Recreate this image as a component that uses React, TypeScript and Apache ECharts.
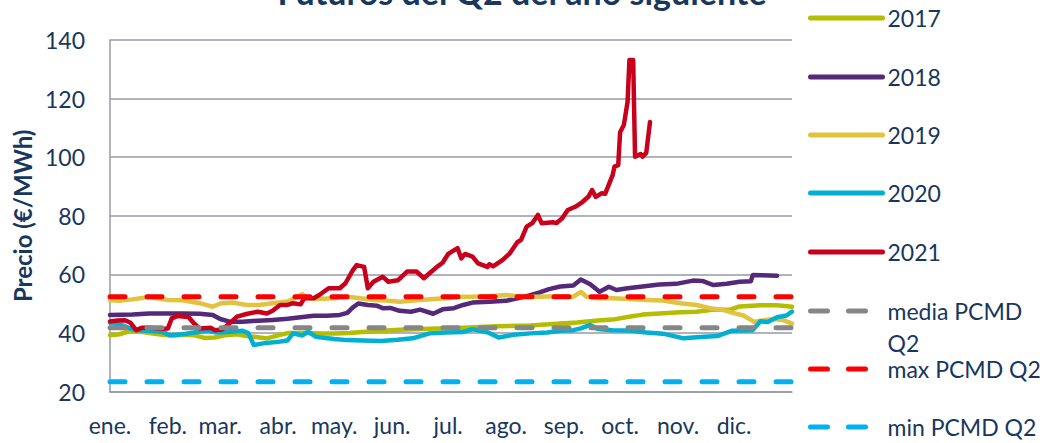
import React, { useEffect, useRef } from "react";
import * as echarts from "echarts";

const MONTHS = ["ene.", "feb.", "mar.", "abr.", "may.", "jun.", "jul.", "ago.", "sep.", "oct.", "nov.", "dic."];
const TITLE = "Futuros del Q2 del año siguiente";
const Y_NAME = "Precio (€/MWh)";
const Y_MIN = 20;
const Y_MAX = 140;
const Y_STEP = 20;
const NAMES = ["2017", "2018", "2019", "2020", "2021", "media PCMD Q2", "max PCMD Q2", "min PCMD Q2"];

// [day of year, €/MWh]
const S2017: [number, number][] = [
  [0, 39.3], [5, 39.6], [11, 40.8], [16, 40.5], [21, 40.0], [28, 39.4], [34, 39.2], [40, 39.4], [45, 39.3],
  [51, 38.3], [56, 38.5], [62, 39.3], [68, 39.6], [73, 39.0], [79, 38.6], [84, 38.2], [90, 39.2], [95, 40.0],
  [104, 40.0], [113, 39.9], [120, 39.9], [128, 40.0], [135, 40.4], [146, 40.8], [155, 41.1], [171, 41.5],
  [189, 41.8], [207, 42.3], [225, 42.6], [241, 43.3], [250, 43.6], [261, 44.3], [269, 44.6], [277, 45.5],
  [285, 46.3], [294, 46.7], [305, 47.1], [314, 47.3], [323, 48.0], [332, 48.0], [337, 49.1], [348, 49.5],
  [357, 49.5], [365, 49.0],
];
const S2018: [number, number][] = [
  [0, 46.2], [12, 46.3], [21, 46.7], [39, 46.7], [48, 46.6], [55, 46.2], [59, 44.8], [64, 43.9], [71, 43.9],
  [79, 44.2], [87, 44.5], [95, 44.9], [102, 45.4], [109, 45.9], [116, 45.9], [123, 46.2], [127, 46.9],
  [130, 48.8], [133, 50.1], [138, 49.6], [143, 49.3], [146, 48.5], [150, 48.6], [155, 47.6], [161, 47.3],
  [166, 48.0], [173, 46.6], [178, 48.1], [184, 48.5], [189, 49.6], [194, 50.4], [203, 50.7], [212, 51.0],
  [218, 51.9], [223, 52.6], [230, 53.9], [235, 55.0], [241, 55.9], [248, 56.2], [252, 58.3], [257, 56.7],
  [262, 54.1], [267, 55.8], [271, 54.7], [277, 55.3], [285, 55.9], [294, 56.6], [303, 56.8], [312, 57.9],
  [317, 57.8], [323, 56.4], [330, 56.8], [337, 57.5], [343, 57.7], [344, 59.8], [349, 59.7], [357, 59.6],
];
const S2019: [number, number][] = [
  [0, 51.2], [5, 51.0], [12, 51.5], [21, 52.3], [31, 51.3], [39, 51.2], [48, 50.2], [55, 49.0], [59, 50.1],
  [66, 50.4], [73, 49.6], [80, 49.6], [87, 50.2], [95, 50.8], [100, 52.3], [103, 53.3], [105, 52.0],
  [112, 51.6], [119, 51.9], [127, 52.4], [134, 51.9], [141, 51.3], [148, 51.1], [155, 50.7], [164, 51.2],
  [173, 51.6], [182, 52.0], [186, 52.4], [194, 52.4], [203, 52.6], [212, 53.0], [221, 52.4], [230, 52.4],
  [239, 52.6], [248, 52.4], [252, 54.1], [255, 52.4], [261, 51.9], [269, 51.9], [278, 51.6], [287, 51.3],
  [296, 51.1], [305, 50.2], [314, 49.6], [321, 48.5], [328, 47.9], [333, 47.0], [339, 46.0], [343, 44.5],
  [345, 43.8], [348, 44.2], [355, 44.8], [360, 44.5], [365, 43.2],
];
const S2020: [number, number][] = [
  [0, 43.5], [6, 42.8], [11, 41.5], [15, 41.0], [21, 40.8], [28, 40.4], [32, 39.3], [39, 39.6], [47, 40.4],
  [52, 40.8], [57, 40.2], [63, 40.4], [71, 40.8], [74, 40.0], [77, 35.9], [82, 36.5], [90, 37.0], [95, 37.5],
  [98, 39.9], [103, 39.2], [106, 40.5], [110, 38.8], [112, 38.6], [120, 38.0], [127, 37.6], [135, 37.5],
  [145, 37.3], [154, 37.7], [162, 38.2], [171, 39.9], [180, 40.2], [189, 40.4], [194, 41.3], [202, 40.3],
  [208, 38.5], [216, 39.4], [225, 39.9], [234, 40.2], [241, 40.8], [248, 41.0], [252, 41.6], [257, 42.8],
  [261, 41.4], [269, 41.0], [278, 40.9], [287, 40.2], [296, 39.8], [307, 38.2], [316, 38.7], [325, 39.0],
  [333, 40.8], [344, 41.0], [348, 44.0], [352, 43.8], [357, 45.4], [362, 46.0], [365, 47.3],
];
const S2021: [number, number][] = [
  [0, 44.0], [4, 44.3], [8, 44.4], [11, 43.5], [14, 41.0], [17, 41.8], [21, 41.8], [28, 41.5], [31, 41.6],
  [33, 45.0], [36, 45.8], [42, 45.5], [45, 43.3], [48, 41.6], [54, 41.8], [56, 41.0], [60, 41.2], [64, 43.3],
  [68, 45.6], [73, 46.5], [79, 47.3], [84, 46.7], [87, 47.6], [91, 49.6], [95, 49.6], [98, 50.2], [102, 49.8],
  [104, 51.9], [109, 51.9], [112, 53.0], [117, 55.3], [123, 55.3], [126, 57.0], [130, 61.5], [132, 63.2],
  [136, 62.6], [138, 55.3], [141, 57.5], [146, 59.2], [149, 57.5], [154, 58.0], [159, 61.0], [164, 61.0],
  [168, 58.7], [171, 60.4], [175, 62.6], [178, 64.0], [181, 67.0], [186, 69.0], [188, 65.5], [190, 67.0],
  [194, 66.1], [197, 63.8], [202, 62.6], [203, 63.5], [205, 62.8], [210, 64.9], [214, 67.2], [218, 71.0],
  [220, 71.8], [223, 76.3], [226, 77.5], [229, 80.3], [231, 77.5], [237, 77.8], [239, 77.5], [242, 79.2],
  [245, 82.0], [249, 83.1], [253, 84.8], [256, 86.5], [258, 88.8], [260, 86.5], [263, 87.7], [265, 87.5],
  [269, 93.9], [270, 96.8], [272, 97.3], [273, 108.5], [275, 111.0], [277, 118.9], [278, 133.2], [280, 133.2],
  [281, 100.2], [284, 101.1], [285, 100.2], [287, 101.5], [289, 112.0],
];
const MEDIA = 41.8;
const MAXV = 52.4;
const MINV = 23.4;
const YEAR_END = 365;

const COLORS = ["#b4bd00", "#54297a", "#e1c33f", "#00afd1", "#c9001c", "#868686", "#ff0000", "#00b0f0"];
const TEXT = "#17375e";
const GRID = "#979aa3";
const FONT = "Lato, 'Open Sans', sans-serif";

const toTime = (d: number) => new Date(2021, 0, 1 + d).getTime();
const LEGEND_CENTERS = [18, 77, 135, 193, 252, 311, 369, 427];

export default function App() {
  const ref = useRef<HTMLDivElement>(null);
  useEffect(() => {
    if (!ref.current) return;
    const chart = echarts.init(ref.current, null, { renderer: "svg" });
    const solid = [S2017, S2018, S2019, S2020, S2021];
    const consts = [MEDIA, MAXV, MINV];
    const series: any[] = [];
    solid.forEach((arr, i) => {
      series.push({
        name: NAMES[i],
        type: "line",
        symbol: "none",
        showSymbol: false,
        data: arr.map(([d, v]) => [toTime(d), v]),
        lineStyle: { color: COLORS[i], width: 4.5, cap: "round", join: "round" },
        itemStyle: { color: COLORS[i] },
        z: 2 + i,
      });
    });
    consts.forEach((v, j) => {
      const i = 5 + j;
      series.push({
        name: NAMES[i],
        type: "line",
        symbol: "none",
        showSymbol: false,
        data: [[toTime(0), v], [toTime(YEAR_END), v]],
        lineStyle: { color: COLORS[i], width: 5, type: [15, 22], cap: "round" },
        itemStyle: { color: COLORS[i] },
        z: 10,
      });
    });
    const legend = NAMES.map((name, i) => {
      const multi = i === 5;
      const lh = multi ? 32 : 34;
      return {
        data: [name],
        orient: "vertical",
        left: 808,
        top: LEGEND_CENTERS[i] - (multi ? lh * 1.5 : lh / 2),
        padding: 0,
        itemWidth: 72,
        itemHeight: 1,
        selectedMode: false,
        formatter: multi ? () => "\nmedia PCMD\nQ2" : undefined,
        itemStyle: { opacity: 0 },
        textStyle: { fontFamily: FONT, fontSize: 23, color: TEXT, lineHeight: lh },
        lineStyle: i >= 5 ? { width: 5, type: [17, 21], cap: "round" } : { width: 5, cap: "round" },
      };
    });
    chart.setOption({
      animation: false,
      title: {
        text: TITLE,
        left: "center",
        top: -26,
        padding: 0,
        textStyle: { fontFamily: FONT, fontSize: 34, fontWeight: "bold", color: TEXT, lineHeight: 34 },
      },
      legend,
      grid: { left: 110, right: 252, top: 40, bottom: 51.3, containLabel: false },
      xAxis: {
        type: "time",
        min: toTime(0),
        max: toTime(YEAR_END),
        splitNumber: 12,
        minInterval: 28 * 86400000,
        maxInterval: 31 * 86400000,
        axisLine: { show: true, lineStyle: { color: GRID, width: 1.5 } },
        axisTick: { show: false },
        splitLine: { show: false },
        axisLabel: {
          formatter: (v: number) => MONTHS[new Date(v).getMonth()],
          showMaxLabel: false,
          showMinLabel: true,
          hideOverlap: false,
          fontFamily: FONT,
          fontSize: 23,
          color: TEXT,
          margin: 22,
        },
      },
      yAxis: {
        type: "value",
        min: Y_MIN,
        max: Y_MAX,
        interval: Y_STEP,
        name: Y_NAME,
        nameLocation: "middle",
        nameGap: 74,
        nameTextStyle: { fontFamily: FONT, fontSize: 24, fontWeight: "bold", color: TEXT },
        axisLine: { show: true, lineStyle: { color: GRID, width: 1.5 } },
        axisTick: { show: false },
        splitLine: { show: true, lineStyle: { color: GRID, width: 1.5 } },
        axisLabel: { fontFamily: FONT, fontSize: 23, color: TEXT, margin: 25 },
      },
      series,
    });
    return () => chart.dispose();
  }, []);
  return <div ref={ref} style={{ position: "fixed", left: 0, top: 0, width: 1044, height: 443, background: "#fff" }} />;
}
